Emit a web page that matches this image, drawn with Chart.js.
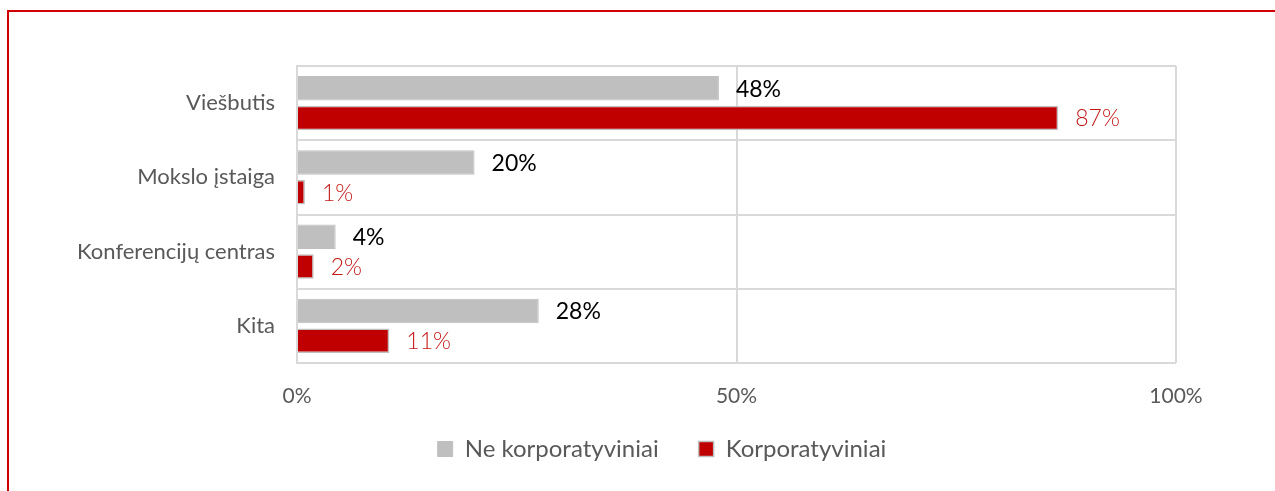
<!DOCTYPE html>
<html><head><meta charset="utf-8">
<script src="https://cdn.jsdelivr.net/npm/chart.js@4"></script>
<style>
html,body{margin:0;padding:0;background:#fff;}
#wrap{position:relative;width:1275px;height:491px;}
#frame{position:absolute;left:7px;top:10px;width:1280px;height:500px;border-left:2px solid #d00000;border-top:2px solid #d00000;box-sizing:border-box;}
canvas{position:absolute;left:0;top:0;}
</style></head>
<body>
<div id="wrap"><div id="frame"></div><canvas id="c" width="1275" height="491"></canvas></div>
<script>
const categories = ["Viešbutis", "Mokslo įstaiga", "Konferencijų centras", "Kita"];
const seriesNames = ["Ne korporatyviniai", "Korporatyviniai"];
const nonCorporate = [48, 20.2, 4.4, 27.5];
const corporate = [86.6, 0.9, 1.9, 10.5];
const xTicks = [0, 50, 100];

const FONT = "Lato, 'Open Sans', sans-serif";

const labelPlugin = {
  id: 'valueLabels',
  afterDatasetsDraw(chart) {
    const ctx = chart.ctx;
    ctx.save();
    ctx.textBaseline = 'middle';
    ctx.textAlign = 'left';
    chart.data.datasets.forEach((ds, i) => {
      const meta = chart.getDatasetMeta(i);
      ctx.fillStyle = i === 0 ? '#000000' : '#c41818';
      ctx.font = (i === 0 ? "400 " : "300 ") + "23px " + FONT;
      meta.data.forEach((el, j) => {
        ctx.fillText(Math.round(ds.data[j]) + '%', el.x + 17, el.y + 1);
      });
    });
    ctx.restore();
  }
};

const legendShift = {
  id: 'legendShift',
  afterLayout(chart) {
    const lg = chart.legend;
    if (!lg) return;
    const dx = 74, dy = -16;
    lg.left += dx; lg.right += dx;
    lg.top += dy; lg.bottom += dy;
    (lg.legendHitBoxes || []).forEach(b => { b.left += dx; b.top += dy; });
  }
};

new Chart(document.getElementById('c'), {
  type: 'bar',
  data: {
    labels: categories,
    datasets: [
      { label: seriesNames[0], data: nonCorporate, backgroundColor: '#bfbfbf', borderColor: '#bfbfbf', borderWidth: 1,
        categoryPercentage: 0.8, barPercentage: 0.82 },
      { label: seriesNames[1], data: corporate, backgroundColor: '#c00000', borderColor: '#bfbfbf', borderWidth: 1.5,
        categoryPercentage: 0.8, barPercentage: 0.82 }
    ]
  },
  options: {
    indexAxis: 'y',
    responsive: false,
    animation: false,
    layout: { padding: { left: 0, right: 99, top: 66, bottom: 4 } },
    scales: {
      x: {
        min: 0, max: 100,
        afterBuildTicks(scale) { scale.ticks = xTicks.map(v => ({ value: v })); },
        ticks: { callback: v => v + '%', color: '#595959', font: { family: FONT, size: 21 }, padding: 21 },
        grid: { color: '#d9d9d9', lineWidth: 2, drawTicks: false },
        border: { display: false },
        afterFit(scale) { scale.height = 50; }
      },
      y: {
        grid: { color: '#d9d9d9', lineWidth: 2, offset: true, drawTicks: false },
        border: { color: '#d9d9d9', width: 2 },
        ticks: { color: '#595959', font: { family: FONT, size: 22 }, padding: 22 },
        afterFit(scale) { scale.width = 297; }
      }
    },
    plugins: {
      legend: {
        position: 'bottom',
        labels: { color: '#595959', font: { family: FONT, size: 24 }, boxWidth: 15, boxHeight: 15, padding: 40 }
      },
      tooltip: { enabled: false }
    }
  },
  plugins: [labelPlugin, legendShift]
});
</script>
</body></html>
